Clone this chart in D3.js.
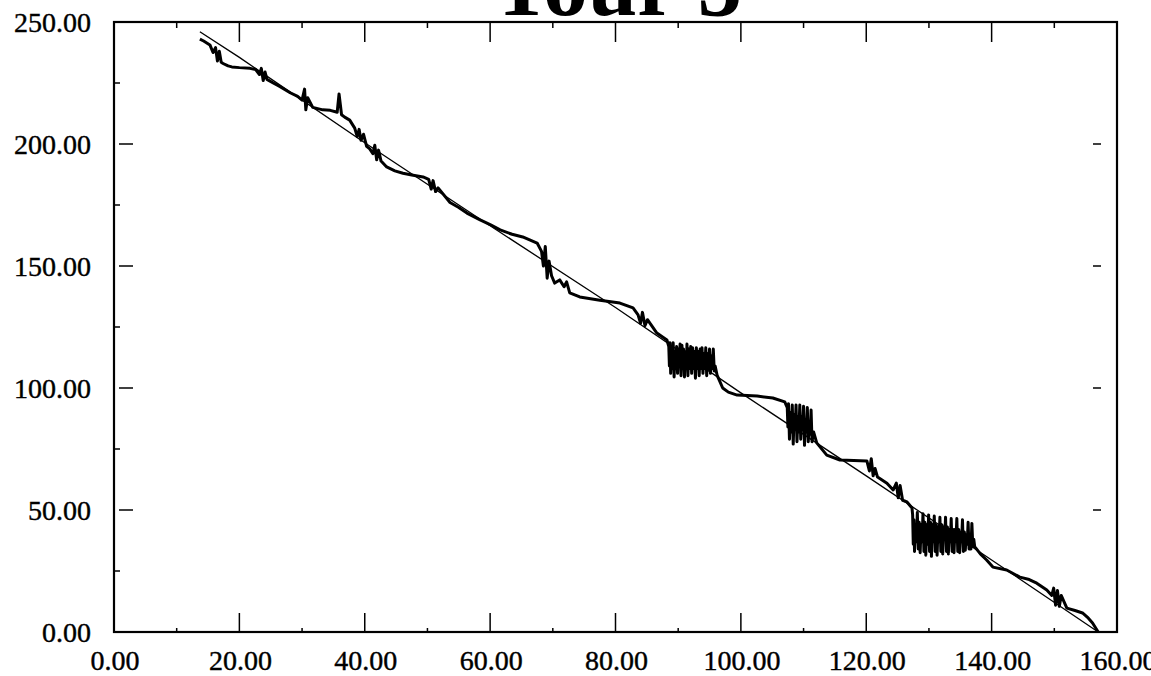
<!DOCTYPE html>
<html>
<head>
<meta charset="utf-8">
<script src="https://cdn.jsdelivr.net/npm/d3@7"></script>
<style>
  html, body { margin: 0; padding: 0; background: #fff; overflow: hidden; }
  svg { display: block; }
</style>
</head>
<body>
<svg id="chart" width="1151" height="676"></svg>
<script>
// ---------- data ----------
const chartTitle = "Tour 5";
const xTickValues = [0, 20, 40, 60, 80, 100, 120, 140, 160];
const yTickValues = [0, 50, 100, 150, 200, 250];
const xMinorTicks = [10, 30, 50, 70, 90, 110, 130, 150];
const yMinorTicks = [25, 75, 125, 175, 225];

// thin reference line
const referenceLine = [
  [13.7, 246], [20, 235.5], [40, 200.5], [60, 166.5], [80, 133],
  [100, 98], [120, 64], [140, 29.5], [157, 0]
];

// thick measured line
const measuredLine = [
  [13.7,243],[14.3,242.2],[15.3,240.6],[15.8,237.5],[16.2,239.5],[16.5,234],[16.8,238],[17.1,233.5],
  [17.4,233],[18.2,232],[18.8,231.6],[20,231.3],[21.7,231],[22.6,230.5],[23.2,228.5],[23.5,231],
  [23.8,226],[24.1,229.5],[24.4,226.5],[25.4,225],[26.5,223.5],[28.1,221],[29.3,219.5],[30,218],
  [30.4,222.5],[30.6,214],[30.9,219],[31.7,215],[33.3,214],[34.5,213.8],[35.6,213],[35.9,220.5],
  [36.3,212],[36.8,211],[37.6,209.8],[38.4,206.5],[38.8,203],[39.1,206],[39.4,201.5],[39.8,204],
  [40.3,199],[40.8,198],[41.3,196],[41.6,199.5],[41.9,193.5],[42.2,197.5],[42.6,193],[43.5,190.6],
  [44.8,189],[46.1,188],[47.5,187.3],[49.3,186.5],[50.2,185.5],[50.6,181.5],[50.9,185],[51.3,180.5],
  [51.7,182],[53.6,176],[55,174],[56.3,171.7],[58.4,168.9],[60,167],[61.6,164.8],[63.5,163],
  [65.2,161.9],[67.5,159.4],[68.2,156],[68.5,150],[68.8,158],[69.1,145],[69.4,152],[69.8,146],
  [70.3,143],[71.1,144.3],[71.8,141.5],[72.2,143.5],[72.7,139],[74.3,137.3],[77.5,136],[80.7,134.8],
  [82.8,132.8],[83.6,130],[84,126.5],[84.3,131],[84.7,125.5],[85.1,128],[86.6,122.5],[88.2,119.7],
  // burst 1
  [88.5,117],[88.6,109],[88.7,118.5],[88.8,106],[88.95,116],[89.1,108],[89.2,118.5],[89.35,104.5],
  [89.5,115],[89.6,108],[89.75,117],[89.9,106],[90.05,116],[90.2,109],[90.3,118],[90.45,105],
  [90.6,117.5],[90.7,108],[90.85,116],[91,104.5],[91.15,115],[91.3,108],[91.4,118],[91.55,105],
  [91.7,116],[91.85,108],[92,117],[92.15,106],[92.3,116.5],[92.45,108],[92.6,115],[92.75,104],
  [92.9,116.5],[93.05,108],[93.2,115],[93.35,105],[93.5,116],[93.65,108],[93.8,116.5],[93.95,106],
  [94.1,114],[94.25,108],[94.4,116.5],[94.55,105],[94.7,114],[94.85,108],[95,116],[95.15,106],
  [95.3,113],[95.45,108],[95.6,116],[95.75,107],[95.9,109],
  [96.2,105.3],[97.1,100],[98,98.3],[99.4,97.1],[102.6,96.7],[105.1,95.9],[107,94.3],
  // burst 2
  [107.4,92],[107.5,84],[107.6,93.5],[107.75,79],[107.9,90],[108.05,82],[108.2,93],[108.35,77],
  [108.5,89],[108.65,83],[108.8,93],[108.95,78],[109.1,88],[109.25,82],[109.4,93],[109.55,79],
  [109.7,88],[109.85,83],[110,92.5],[110.15,76.5],[110.3,87],[110.45,82],[110.6,92],[110.75,78],
  [110.9,86],[111.05,81],[111.2,91],[111.35,78],[111.6,82],
  [112.1,77.5],[113.7,72.5],[115.8,70.5],[118,70.3],[120.1,70.1],[120.5,66],[120.8,71],[121.1,64],
  [121.4,67],[121.8,63.5],[123.3,61],[124.3,58.2],[124.8,61],[125.1,55],[125.4,60],[125.8,54],
  [126.5,53.3],[127.3,50.8],
  // burst 3
  [127.4,48],[127.5,36],[127.6,46],[127.7,33],[127.85,44],[128,37],[128.15,49],[128.3,34],
  [128.45,45],[128.6,32.5],[128.75,44],[128.9,37],[129.05,48.5],[129.2,33],[129.35,45],[129.5,31.5],
  [129.65,44],[129.8,36],[129.95,48],[130.1,33],[130.25,45],[130.4,31],[130.55,44],[130.7,37],
  [130.85,47.5],[131,33],[131.15,44],[131.3,31.5],[131.45,43],[131.6,37],[131.75,47],[131.9,33],
  [132.05,44],[132.2,32],[132.35,43],[132.5,38],[132.65,47],[132.8,33],[132.95,43],[133.1,32],
  [133.25,42],[133.4,37],[133.55,46.5],[133.7,33],[133.85,42],[134,32.5],[134.15,42],[134.3,37],
  [134.45,46.5],[134.6,33],[134.75,42],[134.9,32.5],[135.05,41],[135.2,37],[135.35,46],[135.5,33],
  [135.65,41],[135.8,33.5],[135.95,40],[136.1,36],[136.25,45],[136.4,34],[136.55,40],[136.7,34],
  [136.85,44.5],[137,35],[137.15,38],[137.3,35],
  [138.2,32],[139.2,29.5],[140.2,26.6],[142.4,25.4],[144.5,22.5],[146,21.5],[147.2,20],[148.8,17.2],
  [149.6,15],[149.9,18],[150.2,11],[150.5,17],[150.8,10.5],[151.1,15],[152,9.8],[153.3,8.8],
  [154.5,7.8],[155.3,6],[156.1,3.7],[157,0]
];

// ---------- layout ----------
const plotLeft = 114, plotRight = 1117, plotTop = 22, plotBottom = 632;
const svg = d3.select("#chart");
const x = d3.scaleLinear().domain([0, 160]).range([plotLeft, plotRight]);
const y = d3.scaleLinear().domain([0, 250]).range([plotBottom, plotTop]);
const fmt = d3.format(".2f");
const font = "'Liberation Serif', 'Times New Roman', serif";

// title (top clipped by window, as in the reference)
svg.append("text")
  .attr("x", 617).attr("y", 15)
  .attr("text-anchor", "middle")
  .attr("font-family", font).attr("font-weight", "bold")
  .attr("font-size", 89).attr("fill", "#000")
  .text(chartTitle);

// lines
const line = d3.line().x(d => x(d[0])).y(d => y(d[1]));
svg.append("path").datum(referenceLine)
  .attr("d", line).attr("fill", "none").attr("stroke", "#000").attr("stroke-width", 1.3);
svg.append("path").datum(measuredLine)
  .attr("d", line).attr("fill", "none").attr("stroke", "#000").attr("stroke-width", 3)
  .attr("stroke-linejoin", "round");

// frame
svg.append("rect")
  .attr("x", plotLeft).attr("y", plotTop)
  .attr("width", plotRight - plotLeft).attr("height", plotBottom - plotTop)
  .attr("fill", "none").attr("stroke", "#000").attr("stroke-width", 2.2);

const g = svg.append("g").attr("stroke", "#000").attr("stroke-width", 1.5);
const innerX = xTickValues.filter(v => v > 0 && v < 160);
const innerY = yTickValues.filter(v => v > 0 && v < 250);
g.selectAll(".tt").data(innerX).join("line").attr("class", "tt")
  .attr("x1", d => x(d)).attr("x2", d => x(d)).attr("y1", plotTop).attr("y2", plotTop + 20);
g.selectAll(".tm").data(xMinorTicks).join("line").attr("class", "tm")
  .attr("x1", d => x(d)).attr("x2", d => x(d)).attr("y1", plotTop).attr("y2", plotTop + 6);
g.selectAll(".bt").data(innerX).join("line").attr("class", "bt")
  .attr("x1", d => x(d)).attr("x2", d => x(d)).attr("y1", plotBottom).attr("y2", plotBottom - 19);
g.selectAll(".bm").data(xMinorTicks).join("line").attr("class", "bm")
  .attr("x1", d => x(d)).attr("x2", d => x(d)).attr("y1", plotBottom).attr("y2", plotBottom - 4);
g.selectAll(".lt").data(innerY).join("line").attr("class", "lt")
  .attr("x1", plotLeft + 5).attr("x2", plotLeft + 19).attr("y1", d => y(d)).attr("y2", d => y(d));
g.selectAll(".lm").data(yMinorTicks).join("line").attr("class", "lm")
  .attr("x1", plotLeft).attr("x2", plotLeft + 6).attr("y1", d => y(d)).attr("y2", d => y(d));
g.selectAll(".rt").data(innerY).join("line").attr("class", "rt")
  .attr("x1", plotRight - 24).attr("x2", plotRight - 16).attr("y1", d => y(d)).attr("y2", d => y(d));

// labels
svg.selectAll(".xl").data(xTickValues).join("text").attr("class", "xl")
  .attr("x", d => x(d) + 1).attr("y", 670)
  .attr("text-anchor", "middle")
  .attr("font-family", font).attr("font-size", 28).attr("fill", "#000")
  .attr("stroke", "#000").attr("stroke-width", 0.4)
  .text(d => fmt(d));
svg.selectAll(".yl").data(yTickValues).join("text").attr("class", "yl")
  .attr("x", 91).attr("y", d => y(d) + 9.5)
  .attr("text-anchor", "end")
  .attr("font-family", font).attr("font-size", 28).attr("fill", "#000")
  .attr("stroke", "#000").attr("stroke-width", 0.4)
  .text(d => fmt(d));
</script>
</body>
</html>
